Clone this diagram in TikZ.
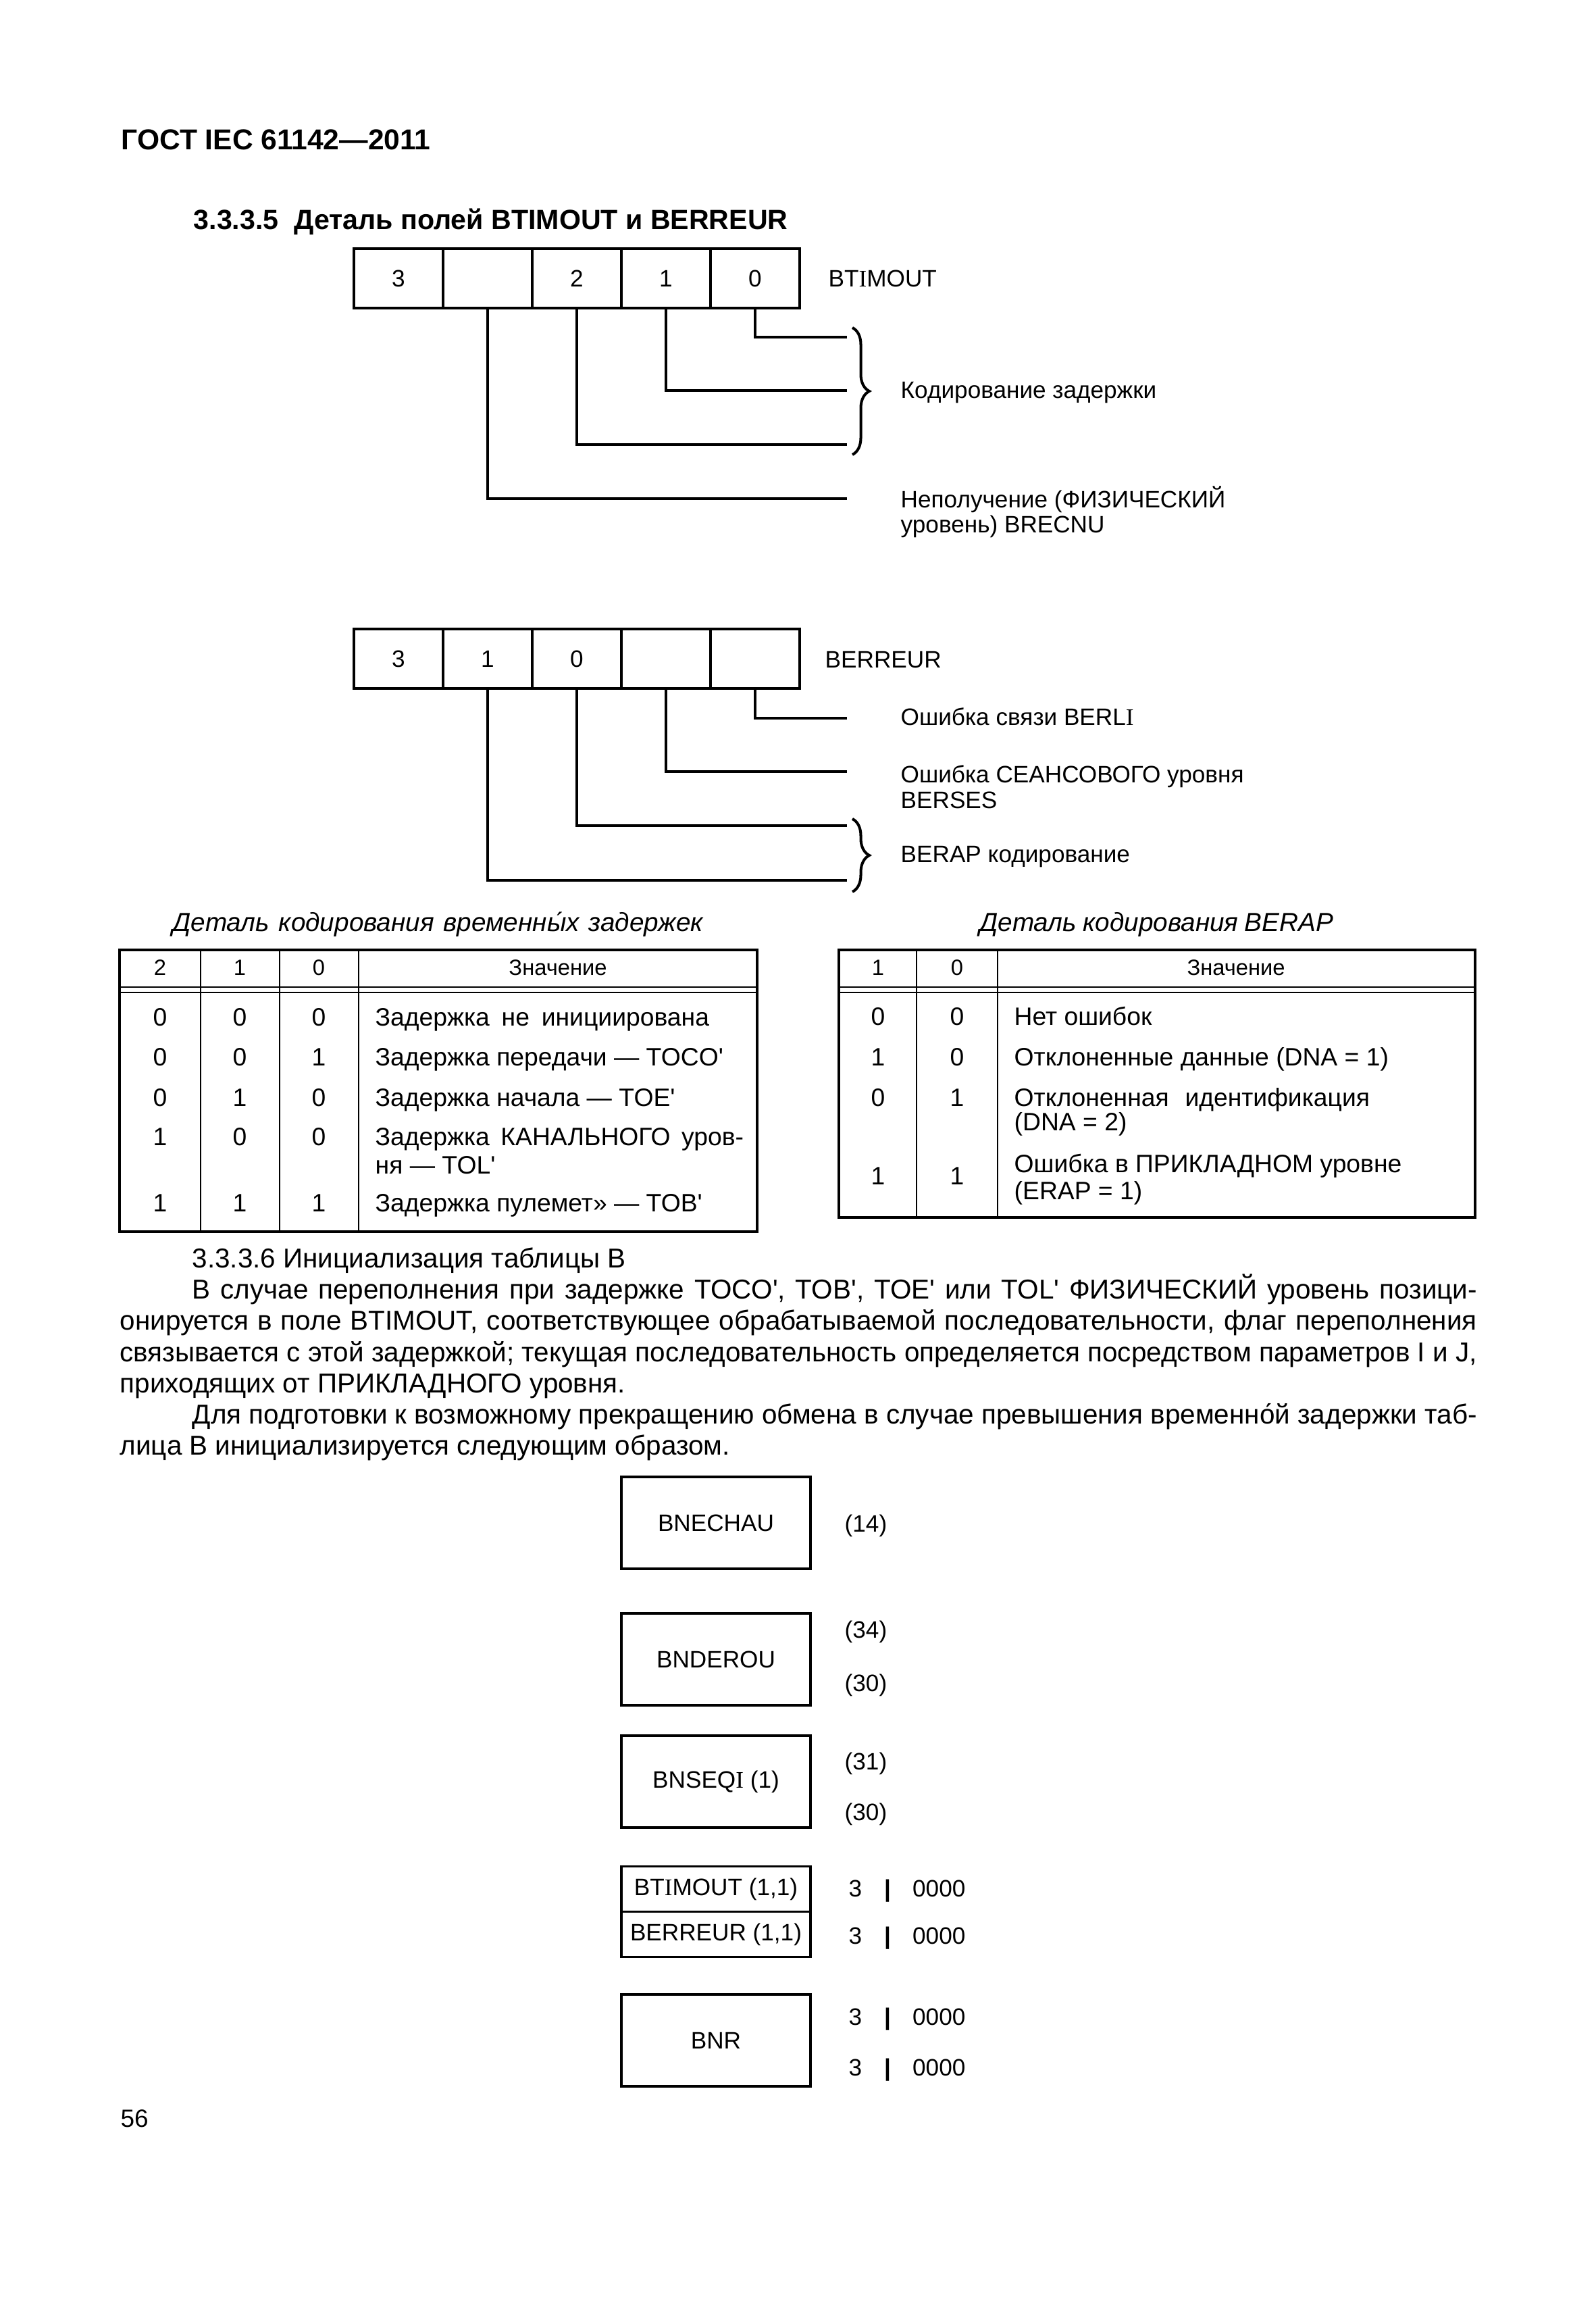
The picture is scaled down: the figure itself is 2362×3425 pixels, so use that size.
\documentclass[tikz,border=0pt]{standalone}
\usepackage{fontspec}
\setmainfont{Liberation Sans}
\newfontfamily\serifI{Liberation Serif}
\newfontfamily\apfont{Liberation Sans}
\usetikzlibrary{decorations.pathreplacing}
\newcommand{\sI}{{\serifI I}}
\newcommand{\ap}{{\apfont'}}
\tikzset{
  cell/.style={draw, line width=1.15pt, minimum width=1.32cm, minimum height=0.88cm, inner sep=0pt, font=\fontsize{10}{12}\selectfont},
  lead/.style={line width=1.15pt},
  lbl/.style={inner sep=0pt, anchor=base west, font=\fontsize{10}{12}\selectfont},
  brc/.style={decorate, decoration={brace, amplitude=0.25cm}, line width=1.15pt},
  tline/.style={line width=0.6pt},
  tframe/.style={line width=1.15pt},
  thead/.style={inner sep=0pt, anchor=base, font=\fontsize{9.3}{11}\selectfont},
  tnum/.style={inner sep=0pt, anchor=base, font=\fontsize{10.6}{12}\selectfont},
  ttxt/.style={inner sep=0pt, anchor=base west, font=\fontsize{10.6}{12}\selectfont},
  capt/.style={inner sep=0pt, anchor=base west, font=\fontsize{11}{13}\selectfont\itshape},
  body/.style={inner sep=0pt, anchor=base west, font=\fontsize{11.5}{13}\selectfont},
  bbox/.style={draw, line width=1.1pt, minimum width=2.8cm, minimum height=1.36cm, inner sep=0pt, font=\fontsize{10}{12}\selectfont},
  hbox/.style={bbox, minimum height=0.67cm},
}
\begin{document}
\begin{tikzpicture}[x=0.01cm,y=-0.01cm]
\useasboundingbox (0,0) rectangle (2362,3425);
\fill[white] (0,0) rectangle (2362,3425);

% page header
\node[inner sep=0pt, anchor=base west, font=\fontsize{12.1}{14}\selectfont\bfseries] (hdr) at (179,222) {ГОСТ IEC 61142—2011};
\node[inner sep=0pt, anchor=base west, font=\fontsize{11.7}{14}\selectfont\bfseries] (sec) at (286,340) {3.3.3.5\ \ Деталь полей BTIMOUT и BERREUR};

% ---------- BTIMOUT ----------
\node[cell] (a1) at (590,412) {3};
\node[cell] (a2) at (722,412) {};
\node[cell] (a3) at (854,412) {2};
\node[cell] (a4) at (986,412) {1};
\node[cell] (a5) at (1118,412) {0};
\node[lbl] (la) at (1226,425) {BT\sI MOUT};
\coordinate (a5e) at (1254,499);
\coordinate (a4e) at (1254,578);
\coordinate (a3e) at (1254,658);
\coordinate (a2e) at (1254,738);
\draw[lead] (a5.south) |- (a5e);
\draw[lead] (a4.south) |- (a4e);
\draw[lead] (a3.south) |- (a3e);
\draw[lead] (a2.south) |- (a2e);
\coordinate (ab1) at (1262,485);
\coordinate (ab2) at (1262,673);
\draw[brc] (ab1) -- (ab2);
\node[lbl] (lb) at (1333,590) {Кодирование задержки};
\node[lbl] (lc) at (1333,752) {Неполучение (ФИЗИЧЕСКИЙ};
\node[lbl] (ld) at (1333,788) {уровень) BRECNU};

% ---------- BERREUR ----------
\node[cell] (b1) at (590,975) {3};
\node[cell] (b2) at (722,975) {1};
\node[cell] (b3) at (854,975) {0};
\node[cell] (b4) at (986,975) {};
\node[cell] (b5) at (1118,975) {};
\node[lbl] (le) at (1221,988) {BERREUR};
\coordinate (b5e) at (1254,1063);
\coordinate (b4e) at (1254,1142);
\coordinate (b3e) at (1254,1222);
\coordinate (b2e) at (1254,1303);
\draw[lead] (b5.south) |- (b5e);
\draw[lead] (b4.south) |- (b4e);
\draw[lead] (b3.south) |- (b3e);
\draw[lead] (b2.south) |- (b2e);
\coordinate (bb1) at (1262,1212);
\coordinate (bb2) at (1262,1320);
\draw[brc] (bb1) -- (bb2);
\node[lbl] (lf) at (1333,1073) {Ошибка связи BERL\sI};
\node[lbl] (lg) at (1333,1158) {Ошибка СЕАНСОВОГО уровня};
\node[lbl] (lh) at (1333,1196) {BERSES};
\node[lbl] (li) at (1333,1276) {BERAP кодирование};

% ---------- captions ----------
\node[capt] (c1) at (255,1378) {\makebox[7.85cm][s]{Деталь кодирования временны́х задержек}};
\node[capt] (c2) at (1450,1378) {\makebox[5.23cm][s]{Деталь кодирования BERAP}};

% ---------- table 1 ----------
\draw[tframe] (177,1406) rectangle (1121,1823);
\draw[tline] (297,1406) -- (297,1823) (414,1406) -- (414,1823) (531,1406) -- (531,1823);
\draw[tline] (177,1461) -- (1121,1461) (177,1469) -- (1121,1469);
\node[thead] at (237,1443) {2};
\node[thead] at (355,1443) {1};
\node[thead] at (472,1443) {0};
\node[thead] at (826,1443) {Значение};
\foreach \y/\p/\q/\r in {1518/0/0/0, 1577/0/0/1, 1637/0/1/0, 1695/1/0/0, 1793/1/1/1}{
  \node[tnum] at (237,\y) {\p};
  \node[tnum] at (355,\y) {\q};
  \node[tnum] at (472,\y) {\r};
}
\node[ttxt] at (555,1518) {\makebox[4.94cm][s]{Задержка не инициирована}};
\node[ttxt] at (555,1577) {Задержка передачи — TOCO\ap};
\node[ttxt] at (555,1637) {Задержка начала — TOE\ap};
\node[ttxt] at (555,1695) {\makebox[5.45cm][s]{Задержка КАНАЛЬНОГО уров-}};
\node[ttxt] at (555,1737) {ня — TOL\ap};
\node[ttxt] at (555,1793) {Задержка пулемет» — TOB\ap};

% ---------- table 2 ----------
\draw[tframe] (1242,1406) rectangle (2184,1802);
\draw[tline] (1357,1406) -- (1357,1802) (1477,1406) -- (1477,1802);
\draw[tline] (1242,1461) -- (2184,1461) (1242,1469) -- (2184,1469);
\node[thead] at (1300,1443) {1};
\node[thead] at (1417,1443) {0};
\node[thead] at (1830,1443) {Значение};
\foreach \y/\p/\q in {1517/0/0, 1577/1/0, 1637/0/1, 1753/1/1}{
  \node[tnum] at (1300,\y) {\p};
  \node[tnum] at (1417,\y) {\q};
}
\node[ttxt] at (1501,1517) {Нет ошибок};
\node[ttxt] at (1501,1577) {Отклоненные данные (DNA = 1)};
\node[ttxt] at (1501,1637) {\makebox[5.26cm][s]{Отклоненная идентификация}};
\node[ttxt] at (1501,1673) {(DNA = 2)};
\node[ttxt] at (1501,1735) {Ошибка в ПРИКЛАДНОМ уровне};
\node[ttxt] at (1501,1775) {(ERAP = 1)};

% ---------- body text ----------
\node[body] (p0) at (284,1876) {3.3.3.6 Инициализация таблицы В};
\node[body] (p1) at (284,1922) {\makebox[19.01cm][s]{В случае переполнения при задержке TOCO\ap, TOB\ap, TOE\ap{} или TOL\ap{} ФИЗИЧЕСКИЙ уровень позици-}};
\node[body] (p2) at (177,1968) {\makebox[20.08cm][s]{онируется в поле BTIMOUT, соответствующее обрабатываемой последовательности, флаг переполнения}};
\node[body] (p3) at (177,2015) {\makebox[20.08cm][s]{связывается с этой задержкой; текущая последовательность определяется посредством параметров I и J,}};
\node[body] (p4) at (177,2061) {приходящих от ПРИКЛАДНОГО уровня.};
\node[body] (p5) at (284,2107) {\makebox[19.01cm][s]{Для подготовки к возможному прекращению обмена в случае превышения временно́й задержки таб-}};
\node[body] (p6) at (177,2153) {лица В инициализируется следующим образом.};

% ---------- table B ----------
\node[bbox] (n1) at (1060,2254) {BNECHAU};
\node[bbox] (n2) at (1060,2456) {BNDEROU};
\node[bbox] (n3) at (1060,2637) {BNSEQ\sI{} (1)};
\node[hbox] (n4) at (1060,2796) {BT\sI MOUT (1,1)};
\node[hbox] (n5) at (1060,2863) {BERREUR (1,1)};
\node[bbox] (n6) at (1060,3020) {BNR};

\node[lbl] (v1) at (1250,2267) {(14)};
\node[lbl] (v2) at (1250,2424) {(34)};
\node[lbl] (v3) at (1250,2503) {(30)};
\node[lbl] (v4) at (1250,2619) {(31)};
\node[lbl] (v5) at (1250,2694) {(30)};
\foreach \y/\nm in {2807/w1, 2877/w2, 2997/w3, 3072/w4}{
  \node[lbl] (\nm) at (1256,\y) {3\hspace{0.33cm}{\bfseries |}\hspace{0.32cm}0000};
}

% page number
\node[inner sep=0pt, anchor=base west, font=\fontsize{10.5}{12}\selectfont] (pg) at (178,3148) {56};
\end{tikzpicture}
\end{document}
